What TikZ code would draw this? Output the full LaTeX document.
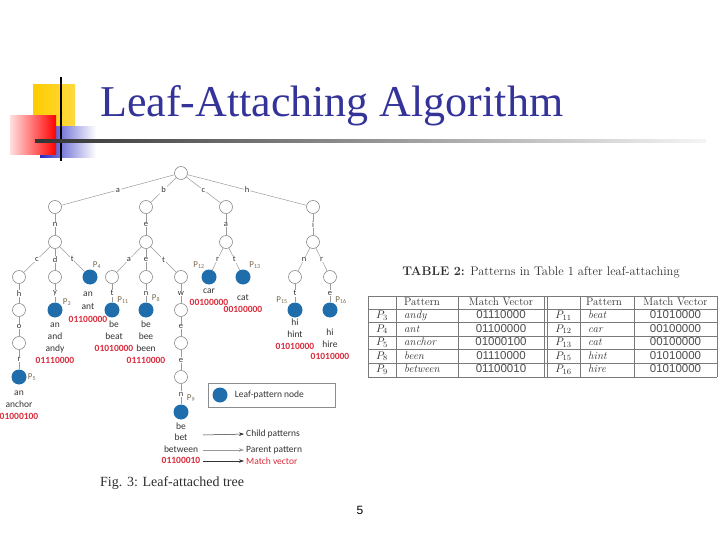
\documentclass[tikz,border=0pt]{standalone}
\usepackage{fontspec}
\usepackage{tikz}
\usetikzlibrary{arrows.meta,positioning}
\newfontfamily\titlefont{Liberation Serif}
\newfontfamily\treefont{Carlito}
\newfontfamily\numfont{Liberation Sans}
\definecolor{titleblue}{HTML}{333399}
\definecolor{leafblue}{HTML}{1F6DAB}
\definecolor{vecred}{HTML}{D92B3A}
\definecolor{ink}{HTML}{333333}
\definecolor{edgegray}{HTML}{9A9A9A}
\definecolor{nodegray}{HTML}{8C8C8C}
\definecolor{pbrown}{HTML}{7A6A50}
\definecolor{tabgray}{HTML}{7A7A7A}
\definecolor{tabink}{HTML}{2E2E2E}
\definecolor{sqyellow}{HTML}{FFCC00}
\definecolor{sqblue}{HTML}{2828C0}
\tikzset{
  hollow/.style={circle,draw=nodegray,fill=white,line width=.6pt,minimum size=13pt,inner sep=0pt},
  leaf/.style={circle,fill=leafblue,minimum size=15pt,inner sep=0pt},
  link/.style={draw=edgegray,line width=.5pt},
  elab/.style={fill=white,inner sep=.8pt,text=ink,font=\treefont\fontsize{8.5}{8.5}\selectfont},
  plab/.style={inner sep=0pt,text=pbrown,font=\treefont\fontsize{9}{9}\selectfont},
  words/.style={inner sep=0pt,align=center,text=ink,font=\treefont\fontsize{9.5}{12}\selectfont},
  legarrow/.style={-{Stealth[length=5pt,width=3.5pt]},line width=.5pt,draw=ink,shorten >=2pt},
  cell/.style={inner sep=0pt,text height=7.5pt,text depth=2pt,text=tabink,font=\fontsize{11}{13}\selectfont},
  numcell/.style={cell,text=tabink!85,font=\numfont\fontsize{11.5}{13}\selectfont},
  tabline/.style={draw=tabgray,line width=.4pt},
}
\newcommand{\vecr}[1]{{\color{vecred}\bfseries #1}}

\begin{document}
\begin{tikzpicture}[x=1pt,y=-1pt]
  \useasboundingbox (0,0) rectangle (720,540);
  % slide decoration and title
  \shade[left color=sqyellow,right color=sqyellow!75!white] (33,85) rectangle (75,128);
  \shade[left color=sqblue,middle color=sqblue!85,right color=white] (40,127) rectangle (96,158);
  \shade[left color=red!12,right color=red] (10,116) rectangle (56,155);
  \draw[line width=2pt] (61,77) -- (61,161);
  \shade[left color=black!80,right color=black!4] (35,140) rectangle (706,142.2);
  \node[anchor=base west,inner sep=0pt,text=titleblue,font=\titlefont\fontsize{44}{48}\selectfont]
    (title) at (100,117) {Leaf-Attaching Algorithm};

  % trie nodes
  \node[hollow] (root) at (181,173) {};
  \foreach \n/\x in {na/55,nb/146,nc/226,nh/313}{\node[hollow] (\n) at (\x,207) {};}
  \foreach \n/\x in {nan/55,nbe/146,nca/226,nhi/313}{\node[hollow] (\n) at (\x,242) {};}
  \foreach \n/\x in {nanc/19,nand/55,nbea/112,nbee/146,nbet/181,nhin/295,nhir/330}{\node[hollow] (\n) at (\x,277) {};}
  \foreach \n/\x in {nant/90,ncar/209,ncat/243}{\node[leaf] (\n) at (\x,277) {};}
  \foreach \n/\x in {nanch/19,nbetw/181}{\node[hollow] (\n) at (\x,310) {};}
  \foreach \n/\x in {nandy/55,nbeat/112,nbeen/146,nhint/295,nhire/330}{\node[leaf] (\n) at (\x,310) {};}
  \node[hollow] (nancho) at (19,343) {};
  \node[hollow] (nbetwe) at (181,343) {};
  \node[leaf] (nanchor) at (19,377) {};
  \node[hollow] (nbetwee) at (181,377) {};
  \node[leaf] (nbetween) at (181,412) {};

  \foreach \p/\c/\l in {root/na/a,root/nb/b,root/nc/c,root/nh/h,na/nan/n,nb/nbe/e,nc/nca/a,nh/nhi/i,
      nan/nanc/c,nan/nand/d,nan/nant/t,nbe/nbea/a,nbe/nbee/e,nbe/nbet/t,nca/ncar/r,nca/ncat/t,
      nhi/nhin/n,nhi/nhir/r,nanc/nanch/h,nand/nandy/y,nbea/nbeat/t,nbee/nbeen/n,nbet/nbetw/w,
      nhin/nhint/t,nhir/nhire/e,nanch/nancho/o,nbetw/nbetwe/e,nancho/nanchor/r,nbetwe/nbetwee/e,
      nbetwee/nbetween/n}
    \draw[link] (\p) -- node[elab]{\l} (\c);

  % pattern labels
  \foreach \n/\x/\y/\k in {p4/97/265/4,p3/67/302/3,p11/123/300/11,p8/156/298/8,p5/32/377/5,
      p9/191/398/9,p12/199/265/12,p13/255/265/13,p15/282/300/15,p16/341/300/16}
    \node[plab] (\n) at (\x,\y) {P\textsubscript{\k}};

  % child patterns, parent pattern and match vector under each leaf
  \node[words,below=6pt of nanchor] (wanchor) {an\\anchor\\\vecr{01000100}};
  \node[words,below=5pt of nandy] (wandy) {an\\and\\andy\\\vecr{01110000}};
  \node[words,below=7pt of nant,xshift=-2pt,font=\treefont\fontsize{9.5}{13}\selectfont] (want)
    {an\\ant\\\vecr{01100000}};
  \node[words,below=3pt of nbeat,xshift=2pt] (wbeat) {be\\beat\\\vecr{01010000}};
  \node[words,below=3pt of nbeen] (wbeen) {be\\bee\\been\\\vecr{01110000}};
  \node[words,below=4pt of ncar] (wcar) {car\\\vecr{00100000}};
  \node[words,below=10pt of ncat] (wcat) {cat\\\vecr{00100000}};
  \node[words,below=1.5pt of nhint] (whint) {hi\\hint\\\vecr{01010000}};
  \node[words,below=11pt of nhire] (whire) {hi\\hire\\\vecr{01010000}};
  \node[words,below=3pt of nbetween,font=\treefont\fontsize{9.5}{11.5}\selectfont] (wbetween)
    {be\\bet\\between\\\vecr{01100010}};

  % legend
  \node[draw=nodegray,line width=.6pt,minimum width=127pt,minimum height=24pt,inner sep=0pt]
    (legend) at (271.5,395) {};
  \node[leaf] (legdot) at (220,395) {};
  \node[words,right=7pt of legdot] (legtxt) {Leaf-pattern node};
  \coordinate (childfrom) at (203,435);
  \coordinate (parentfrom) at (203,450);
  \coordinate (matchfrom) at (203,461);
  \node[words,anchor=west] (childtxt) at (246,434) {Child patterns};
  \node[words,anchor=west] (parenttxt) at (246,450) {Parent pattern};
  \node[words,anchor=west,text=vecred] (matchtxt) at (246,461) {Match vector};
  \draw[legarrow] (childfrom) -- (childtxt.west);
  \draw[legarrow,draw=edgegray] (parentfrom) -- (parenttxt.west);
  \draw[legarrow] (matchfrom) -- (matchtxt.west);
  \node[anchor=west,inner sep=0pt,text=tabink,font=\titlefont\fontsize{14}{16}\selectfont]
    (caption) at (100,483) {Fig. 3: Leaf-attached tree};

  % table of patterns
  \node[inner sep=0pt,text=tabink,font=\fontsize{12.5}{14}\selectfont] (tabtitle) at (541,272)
    {\textbf{TABLE 2:} Patterns in Table 1 after leaf-attaching};
  \foreach \x in {368,396,458,544,547,580,634,717}
    \draw[tabline] (\x,296) -- (\x,377);
  \foreach \y in {296,309,322,336,349,363,377}
    \draw[tabline] (368,\y) -- (717,\y);
  \node[cell,anchor=west] (hpa) at (404,302.5) {Pattern};
  \node[cell] (hva) at (501,302.5) {Match Vector};
  \node[cell,anchor=west] (hpb) at (586,302.5) {Pattern};
  \node[cell] (hvb) at (675.5,302.5) {Match Vector};
  \foreach \ra/\wa/\va/\rb/\wb/\vb [count=\i] in {3/andy/01110000/11/beat/01010000,
      4/ant/01100000/12/car/00100000,5/anchor/01000100/13/cat/00100000,
      8/been/01110000/15/hint/01010000,9/between/01100010/16/hire/01010000}{
    \pgfmathsetmacro\yc{302.2+13.6*\i}
    \node[cell] (pa\i) at (382,\yc) {$P_{\ra}$};
    \node[cell,anchor=west] (wa\i) at (404,\yc) {\textit{\wa}};
    \node[numcell] (va\i) at (501,\yc) {\va};
    \node[cell] (pb\i) at (563.5,\yc) {$P_{\rb}$};
    \node[cell,anchor=west] (wb\i) at (588,\yc) {\textit{\wb}};
    \node[numcell] (vb\i) at (675.5,\yc) {\vb};
  }

  \node[inner sep=0pt,font=\numfont\fontsize{12}{14}\selectfont] (pagenum) at (360,510) {5};
\end{tikzpicture}
\end{document}
